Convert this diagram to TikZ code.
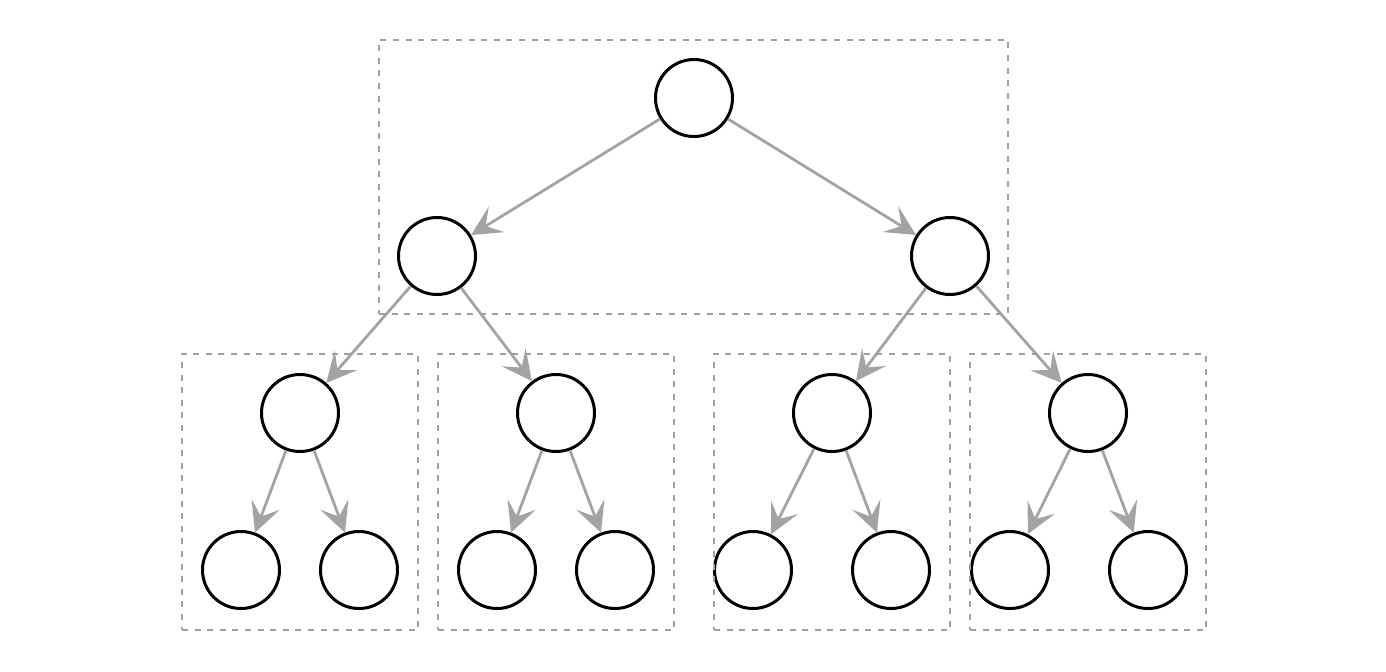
\documentclass[tikz,border=0pt]{standalone}
\usepackage{xcolor}
\usepackage{tikz}
\usetikzlibrary{
  arrows.meta,
  positioning,
  fit
}
\definecolor{TreeEdge}{HTML}{A3A3A3}
\definecolor{TreeBox}{HTML}{A0A0A0}

\tikzset{
  treenode/.style={circle,draw=black,line width=1.5pt,minimum size=38.5pt,inner sep=0pt},
  treeedge/.style={draw=TreeEdge,line width=1.4pt,
                   -{Stealth[length=15pt,width=15pt,inset=6.5pt]}},
  subtree/.style={draw=TreeBox,line width=1.3pt,dash pattern=on 3pt off 3.3pt,
                  inner sep=9pt},
  leafbox/.style={subtree,minimum width=118pt,minimum height=138pt}
}

\begin{document}
\begin{tikzpicture}[x=0.5pt,y=-0.5pt]
  \useasboundingbox (0,0) rectangle (1386,671);

  % nodes
  \node[treenode] (r)   at (694,98)  {};
  \node[treenode] (a)   at (437,256) {};
  \node[treenode] (b)   at (950,256) {};
  \node[treenode] (aa)  at (300,413) {};
  \node[treenode] (ab)  at (556,413) {};
  \node[treenode] (ba)  at (832,413) {};
  \node[treenode] (bb)  at (1088,413) {};
  \node[treenode] (aaa) at (241,570) {};
  \node[treenode] (aab) at (359,570) {};
  \node[treenode] (aba) at (497,570) {};
  \node[treenode] (abb) at (615,570) {};
  \node[treenode] (baa) at (753,570) {};
  \node[treenode] (bab) at (891,570) {};
  \node[treenode] (bba) at (1010,570) {};
  \node[treenode] (bbb) at (1148,570) {};

  % boxes
  \coordinate (boxrow) at (0,492);
  \node[subtree,fit=(r)(a)(b)] (top) {};
  \node[leafbox] (boxaa) at (aa |- boxrow) {};
  \node[leafbox] (boxab) at (ab |- boxrow) {};
  \node[leafbox] (boxba) at (ba |- boxrow) {};
  \node[leafbox] (boxbb) at (bb |- boxrow) {};

  % edges
  \foreach \p/\c in {r/a,r/b,a/aa,a/ab,b/ba,b/bb,
                     aa/aaa,aa/aab,ab/aba,ab/abb,
                     ba/baa,ba/bab,bb/bba,bb/bbb}
    \draw[treeedge] (\p) -- (\c);
\end{tikzpicture}
\end{document}
